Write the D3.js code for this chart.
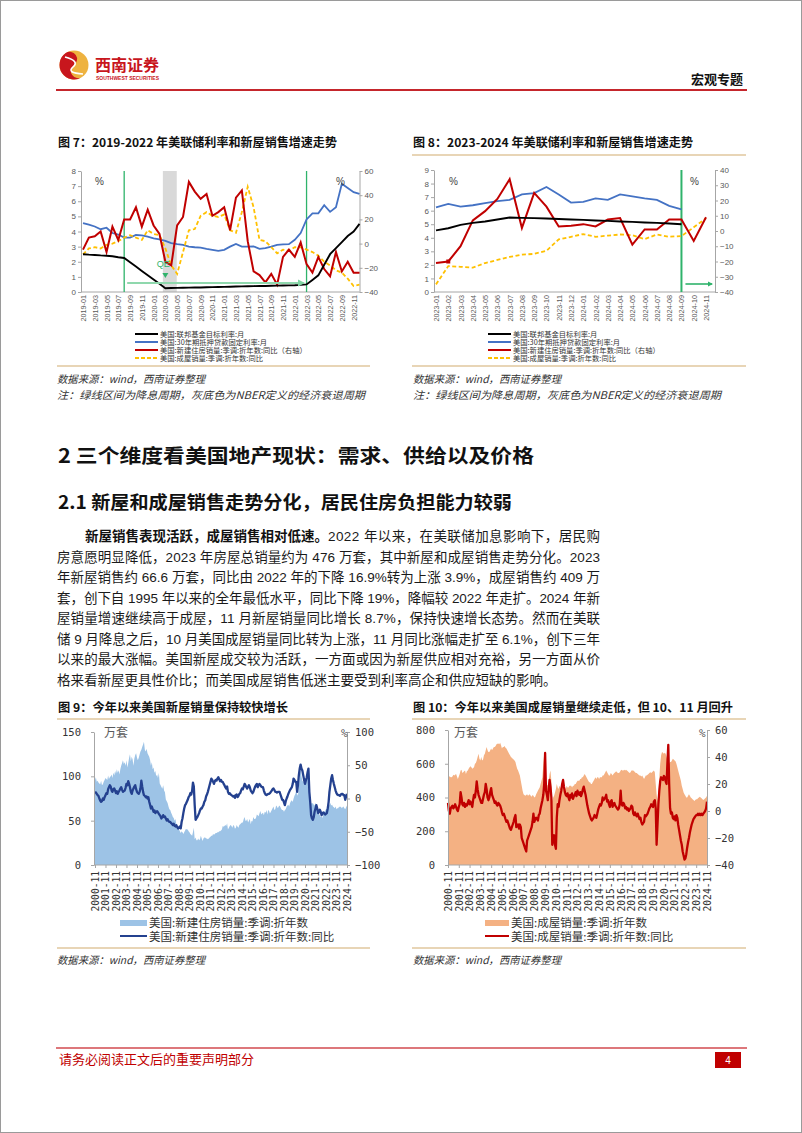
<!DOCTYPE html>
<html><head><meta charset="utf-8">
<script src="https://cdn.jsdelivr.net/npm/d3@7"></script>
<style>body{margin:0;background:#fff}svg{display:block}</style>
</head><body>
<svg id="page" width="802" height="1133"></svg>
<script>
// ---------------- DATA ----------------
// Figure 7: 2019-01 .. 2022-12 (monthly)
const fed7 = [2.5,2.47,2.45,2.42,2.4,2.36,2.3,2.25,1.96,1.68,1.39,1.11,0.82,0.54,0.25,0.26,0.27,0.28,0.29,0.3,0.3,0.31,0.32,0.33,0.34,0.35,0.36,0.37,0.38,0.39,0.4,0.4,0.41,0.42,0.43,0.44,0.45,0.47,0.5,0.8,1.1,1.8,2.5,2.9,3.3,3.7,4.0,4.5];
const mort7 = [4.55,4.45,4.33,4.15,4.25,3.9,3.8,3.6,3.6,3.77,3.75,3.66,3.55,3.48,3.38,3.23,3.16,3.12,3.0,2.96,2.94,2.85,2.79,2.72,2.79,3.0,3.18,3.0,3.0,3.02,2.85,2.9,3.0,3.12,3.15,3.16,3.45,3.9,4.8,5.2,5.2,5.74,5.3,5.6,7.15,6.87,6.6,6.49];
const newYoy7 = [-5,5,6,10,-7,14,3,20,20,30,14,28,15,8,-15,-18,15,22,51,43,37,41,23,26,30,11,38,44,2,-23,-26,-32,-25,-34,-11,-5,-11,1,-17,-24,-11,-21,-27,-7,-23,-15,-24,-24];
const exYoy7 = [-9,-4,-3,-4,-1,0,2,5,7,5,3,11,8,7,-4,-18,-25,-7,11,12,23,26,23,22,24,11,9,26,47,30,3,2,-3,-8,-5,-6,-3,-3,-5,-7,-10,-15,-18,-22,-24,-29,-35,-34];
// Figure 8: 2023-01 .. 2024-11 (monthly)
const fed8 = [4.55,4.7,4.95,5.1,5.2,5.35,5.5,5.47,5.45,5.42,5.38,5.35,5.32,5.28,5.25,5.2,5.17,5.13,5.1,5.05,5.0];
const mort8 = [6.25,6.5,6.3,6.4,6.55,6.7,6.8,7.2,7.3,7.75,7.2,6.6,6.65,6.9,6.8,7.2,7.05,6.9,6.8,6.35,6.1];
const newYoy8 = [-21,-20,-10,7,13,21,34,2,25,16,3,3.5,4.5,3,7.5,8.5,-9,1,1,7.5,7.5,-6.5,9];
const exYoy8 = [-35,-23,-23.5,-24,-21,-19,-17,-15.5,-15,-13,-5.5,-3.8,-2,-3.8,-3,-2.3,-2.7,-5.3,-2.3,-3.8,-3.3,2.4,8.3];
const legend78 = ["美国:联邦基金目标利率:月","美国:30年期抵押贷款固定利率:月","美国:新建住房销量:季调:折年数:同比（右轴）","美国:成屋销量:季调:折年数:同比"];

// Figure 9 / 10: 2000-11 .. 2024-11 (monthly)
const yearTicks = ["2000-11","2001-11","2002-11","2003-11","2004-11","2005-11","2006-11","2007-11","2008-11","2009-11","2010-11","2011-11","2012-11","2013-11","2014-11","2015-11","2016-11","2017-11","2018-11","2019-11","2020-11","2021-11","2022-11","2023-11","2024-11"];
const newSales = [
 96,99,
 94,95,93,92,91,95,90,91,94,96,98,97,
 96,101,97,99,100,102,98,104,101,106,103,108,
 104,107,102,108,112,115,118,114,116,112,118,110,
 115,121,125,117,122,119,112,120,124,126,121,118,
 121,125,128,130,133,136,139,130,128,131,126,124,
 122,118,112,116,108,110,104,106,100,102,98,104,
 92,90,88,86,90,84,82,74,72,70,66,63,
 62,59,57,54,53,50,52,46,44,42,40,38,
 36,38,37,35,37,39,41,40,40,38,37,35,
 34,33,37,42,29,31,28,28,30,28,29,33,
 30,27,30,31,31,30,30,29,30,31,32,33,
 33,35,34,35,36,36,37,37,38,38,39,40,
 44,43,44,45,44,47,40,42,44,45,44,42,
 45,44,41,42,45,43,42,45,46,47,48,48,
 52,54,50,50,52,48,50,52,46,50,49,54,
 52,52,53,57,56,55,58,61,57,58,59,56,
 60,59,62,57,62,61,58,60,62,64,66,62,
 63,67,66,64,66,67,65,63,62,62,60,62,
 63,66,67,68,66,70,72,73,71,75,78,80,
 84,80,78,88,98,109,100,95,94,94,96,98,
 99,101,95,78,72,70,69,70,68,67,70,68,
 66,62,58,56,54,55,53,58,60,61,63,64,
 64,66,68,70,67,68,66,65,64,66,63,64,
 64,66,65,66,64,65,66,64,63,65,67];
const newSalesYoy = [
 10,9,
 7,5,4,0,-3,-5,-4,0,-2,2,5,8,
 7,14,17,20,18,12,10,14,15,12,8,11,
 7,10,12,15,17,13,10,11,12,16,22,20,
 26,22,17,10,7,12,15,18,20,14,10,8,
 7,10,15,27,18,10,5,4,2,3,0,2,
 -5,-10,-15,-12,-16,-20,-18,-22,-20,-19,-21,-23,
 -25,-27,-30,-28,-25,-28,-27,-30,-33,-31,-34,-35,
 -35,-37,-38,-40,-38,-41,-42,-40,-43,-45,-44,-42,
 -45,-35,-30,-22,-15,-10,-8,-5,-2,2,4,8,
 6,12,24,18,-10,-32,-30,-28,-25,-22,-18,-15,
 -15,-12,-10,-5,-3,3,6,10,15,20,25,30,
 28,25,22,26,28,27,30,32,29,26,28,25,
 25,22,20,17,15,18,10,7,8,6,5,4,
 3,4,1,5,6,2,4,7,8,12,15,14,
 18,22,20,17,15,18,20,17,12,10,8,10,
 14,18,20,22,17,20,22,20,18,17,17,12,
 8,6,5,6,7,7,8,10,12,14,15,13,
 10,10,9,10,10,10,6,2,-2,-2,-6,-10,
 -4,0,3,7,10,13,15,17,22,30,28,25,
 25,10,20,35,45,51,45,42,35,28,22,27,
 32,40,45,10,-5,-25,-30,-32,-28,-20,-15,-10,
 -15,-22,-20,-17,-20,-25,-23,-21,-22,-24,-23,-22,
 -15,-5,10,20,30,35,28,22,17,12,8,6,
 5,5,4,6,7,7,5,5,-2,3,7];
const exSales = [
 515,525,
 525,520,520,525,535,530,535,540,525,510,525,540,
 560,565,545,550,555,560,540,555,560,570,580,585,
 580,570,575,580,600,605,620,640,660,630,620,640,
 620,625,650,660,680,700,680,670,670,680,690,680,
 690,700,700,705,715,718,720,715,725,710,690,700,
 700,705,695,690,680,670,660,650,640,635,630,625,
 620,610,590,570,560,545,530,500,470,440,420,415,
 410,415,420,410,415,420,410,405,415,410,400,405,
 420,430,440,450,460,480,500,520,600,660,560,500,
 480,470,500,540,560,500,380,400,410,430,450,480,
 460,450,470,460,450,460,470,460,460,450,470,460,
 460,470,470,470,460,470,470,480,480,490,500,500,
 500,510,510,520,520,530,540,530,520,510,500,490,
 490,480,480,490,500,510,520,510,520,520,510,520,
 520,520,530,530,540,550,560,550,540,530,530,545,
 540,530,540,545,550,555,550,545,545,550,560,565,
 560,560,565,560,565,560,555,550,545,550,560,560,
 560,555,550,545,545,540,535,530,530,525,530,520,
 510,520,530,530,535,540,545,550,545,550,555,560,
 550,480,420,380,420,520,600,650,670,665,660,665,
 660,640,620,600,600,610,610,620,630,625,620,615,
 600,580,560,540,520,500,470,450,430,420,410,400,
 400,410,420,410,400,395,390,385,380,385,390,390,
 395,400,405,400,395,390,385,390,395,400,410];
const exSalesYoy = [
 6,0,
 -2,2,3,4,2,3,5,3,1,0,3,5,
 14,10,5,4,6,3,5,4,6,8,5,7,
 5,3,8,12,10,15,22,16,12,10,8,6,
 6,9,12,14,20,16,10,8,10,14,17,12,
 10,8,6,7,5,4,6,5,4,2,-1,-3,
 -2,-4,-6,-8,-7,-9,-11,-13,-14,-12,-10,-8,
 -5,-3,-12,-11,-10,-13,-10,-12,-20,-22,-24,-26,
 -28,-30,-22,-20,-18,-16,-14,-12,-8,-2,-8,-6,
 -5,-6,-7,-3,-2,2,5,8,12,20,43,15,
 12,8,16,23,18,10,-25,-20,-18,-25,-28,-5,
 5,3,8,12,15,20,23,18,14,12,11,13,
 10,8,12,10,13,9,11,12,14,11,15,13,
 12,14,11,13,16,18,15,12,8,4,1,-2,
 -4,-6,-7,-6,-5,-3,-4,-5,-2,1,3,5,
 4,6,10,8,9,10,12,7,8,5,3,7,
 8,3,5,6,4,3,2,1,2,5,15,5,
 4,6,5,2,3,1,2,0,1,2,4,3,
 -2,-3,-1,-3,-4,-2,-4,-6,-5,-8,-10,-9,
 -8,-3,-4,-3,-2,0,2,3,5,4,3,7,
 8,2,-25,-10,5,15,22,25,24,23,26,25,
 22,20,35,49,20,2,-2,-1,-5,-6,-4,-7,
 -3,-5,-10,-14,-18,-22,-25,-30,-33,-36,-35,-32,
 -27,-23,-20,-16,-13,-10,-8,-6,-5,-4,-3,-3,
 -2,-3,-2,-3,-2,-3,-2,-1,0,2,7];

const paraBold = "新屋销售表现活跃，成屋销售相对低速。";
const paraLines = [
 "2022 年以来，在美联储加息影响下，居民购",
 "房意愿明显降低，2023 年房屋总销量约为 476 万套，其中新屋和成屋销售走势分化。2023",
 "年新屋销售约 66.6 万套，同比由 2022 年的下降 16.9%转为上涨 3.9%，成屋销售约 409 万",
 "套，创下自 1995 年以来的全年最低水平，同比下降 19%，降幅较 2022 年走扩。2024 年新",
 "屋销量增速继续高于成屋，11 月新屋销量同比增长 8.7%，保持快速增长态势。然而在美联",
 "储 9 月降息之后，10 月美国成屋销量同比转为上涨，11 月同比涨幅走扩至 6.1%，创下三年",
 "以来的最大涨幅。美国新屋成交较为活跃，一方面或因为新屋供应相对充裕，另一方面从价",
 "格来看新屋更具性价比；而美国成屋销售低迷主要受到利率高企和供应短缺的影响。"];

// ---------------- DRAW ----------------
const CJK = "'Noto Sans CJK SC',sans-serif";
const SANS = "'Liberation Sans',Arial,'Noto Sans CJK SC',sans-serif";
const MONO = "'DejaVu Sans Mono',monospace";
const svg = d3.select('#page');
svg.append('rect').attr('width',802).attr('height',1133).attr('fill','#fff');
svg.append('rect').attr('x',0.5).attr('y',0.5).attr('width',801).attr('height',1132).attr('fill','none').attr('stroke','#9a9a9a');

const defs = svg.append('defs');
defs.append('marker').attr('id','arrG').attr('viewBox','0 0 10 10').attr('refX',8).attr('refY',5)
  .attr('markerWidth',4).attr('markerHeight',4).attr('orient','auto')
  .append('path').attr('d','M0,0L10,5L0,10z').attr('fill','#7fd3a2');
defs.append('marker').attr('id','arrG2').attr('viewBox','0 0 10 10').attr('refX',8).attr('refY',5)
  .attr('markerWidth',3.5).attr('markerHeight',3.5).attr('orient','auto')
  .append('path').attr('d','M0,0L10,5L0,10z').attr('fill','#2fb36b');

function txt(x,y,s,o={}){
  const t = svg.append('text').attr('x',x).attr('y',y).text(s)
    .attr('font-family',o.ff||CJK).attr('font-size',o.fs||12).attr('fill',o.fill||'#222');
  if(o.fw) t.attr('font-weight',o.fw);
  if(o.anchor) t.attr('text-anchor',o.anchor);
  if(o.len) t.attr('textLength',o.len).attr('lengthAdjust','spacingAndGlyphs');
  if(o.italic) t.attr('font-style','italic');
  return t;
}

// Header
(function(){
  const cx=74, cy=65, r=14.5;
  svg.append('circle').attr('cx',cx).attr('cy',cy).attr('r',r).attr('fill','#eeb23f');
  svg.append('path').attr('d',`M${cx},${cy-r} A${r},${r} 0 0,0 ${cx},${cy+r} A${r/2},${r/2} 0 0,1 ${cx},${cy} A${r/2},${r/2} 0 0,0 ${cx},${cy-r}Z`)
    .attr('fill','#c8161d').attr('transform',`rotate(-35 ${cx} ${cy})`);
  svg.append('path').attr('d',`M${cx-9},${cy-8} Q${cx+6},${cy-4} ${cx-1},${cy+2} Q${cx-8},${cy+8} ${cx+9},${cy+9}`)
    .attr('fill','none').attr('stroke','#fff').attr('stroke-width',1.6);
  txt(95,71,'西南证券',{fs:15.5,fw:'bold',fill:'#c8161d',len:64});
  txt(96,80,'SOUTHWEST SECURITIES',{ff:SANS,fs:4.6,fw:'bold',fill:'#c8161d',len:63});
  txt(743,84,'宏观专题',{fs:13,fw:'bold',fill:'#111',anchor:'end'});
  svg.append('line').attr('x1',56).attr('x2',747).attr('y1',90).attr('y2',90).attr('stroke','#c5262c').attr('stroke-width',2);
})();

// Footer
svg.append('line').attr('x1',56).attr('x2',747).attr('y1',1048).attr('y2',1048).attr('stroke','#d24a4f').attr('stroke-width',1.5);
txt(59,1064,'请务必阅读正文后的重要声明部分',{fs:13,fill:'#c00000'});
svg.append('rect').attr('x',715).attr('y',1052).attr('width',26).attr('height',16).attr('fill','#c00000');
txt(728,1064,'4',{ff:SANS,fs:10,fill:'#fff',anchor:'middle'});

const TAN = '#d2ab6e';
function hline(x1,x2,y,c){ svg.append('line').attr('x1',x1).attr('x2',x2).attr('y1',y).attr('y2',y).attr('stroke',c||TAN).attr('stroke-width',1.2); }

function styleAxis(ax, fs, ff, col){
  ax.select('.domain').attr('stroke','#a6a6a6');
  ax.selectAll('.tick line').attr('stroke','#a6a6a6');
  ax.selectAll('text').attr('font-family',ff).attr('font-size',fs).attr('fill',col);
}

// ---- Figures 7 & 8 ----
function rateChart(o){
  const g = svg.append('g');
  const x = d3.scalePoint().domain(o.months).range([o.xa,o.xb]);
  const yL = d3.scaleLinear().domain(o.lDom).range([o.yB,o.yT]);
  const yR = d3.scaleLinear().domain(o.rDom).range([o.yB,o.yT]);
  if(o.band){
    g.append('rect').attr('x',x(o.months[o.band[0]])-2.5).attr('width',x(o.months[o.band[1]])-x(o.months[o.band[0]])+8)
      .attr('y',o.yT).attr('height',o.yB-o.yT).attr('fill','#d9d9d9');
  }
  const aL = g.append('g').attr('transform',`translate(${o.axL},0)`).call(d3.axisLeft(yL).tickValues(o.lTicks).tickSize(3).tickSizeOuter(0).tickPadding(2));
  const aR = g.append('g').attr('transform',`translate(${o.axR},0)`).call(d3.axisRight(yR).tickValues(o.rTicks).tickSize(3).tickSizeOuter(0).tickPadding(2));
  styleAxis(aL,8,SANS,'#595959'); styleAxis(aR,8,SANS,'#595959');
  g.append('line').attr('x1',o.axL).attr('x2',o.axR).attr('y1',o.yB).attr('y2',o.yB).attr('stroke','#a6a6a6');
  const fmt = d3.timeFormat('%Y-%m');
  const aB = g.append('g').attr('transform',`translate(0,${o.yB})`).call(d3.axisBottom(x).tickValues(o.tickMonths).tickFormat(fmt).tickSize(0));
  aB.select('.domain').remove();
  aB.selectAll('text').attr('transform','rotate(-90)').attr('x',-3).attr('y',0).attr('dy','0.35em')
    .style('text-anchor','end').attr('font-family',SANS).attr('font-size',7.2).attr('fill','#595959');
  o.greens.forEach(i=>{
    g.append('line').attr('x1',x(o.months[i])).attr('x2',x(o.months[i])).attr('y1',o.yT).attr('y2',o.yB)
      .attr('stroke','#2fb36b').attr('stroke-width',o.gw||1.3);
  });
  const lineL = d3.line().x((d,i)=>x(o.months[i])).y(d=>yL(d));
  const lineR = d3.line().x((d,i)=>x(o.months[i])).y(d=>yR(d));
  g.append('path').datum(o.mort).attr('d',lineL).attr('fill','none').attr('stroke','#4472c4').attr('stroke-width',1.8);
  g.append('path').datum(o.exYoy).attr('d',lineR).attr('fill','none').attr('stroke','#ffc000').attr('stroke-width',1.8).attr('stroke-dasharray','4,2.5');
  g.append('path').datum(o.newYoy).attr('d',lineR).attr('fill','none').attr('stroke','#c00000').attr('stroke-width',2);
  g.append('path').datum(o.fed).attr('d',lineL).attr('fill','none').attr('stroke','#000').attr('stroke-width',1.9);
  txt(o.pctL,185,'%',{ff:SANS,fs:10,fill:'#404040'});
  txt(o.pctR,185,'%',{ff:SANS,fs:10,fill:'#404040'});
  const cols = ['#000','#4472c4','#c00000','#ffc000'];
  legend78.forEach((s,i)=>{
    const yy = 334+i*8;
    g.append('line').attr('x1',o.legX).attr('x2',o.legX+23).attr('y1',yy).attr('y2',yy).attr('stroke',cols[i]).attr('stroke-width',2)
      .attr('stroke-dasharray', i===3?'4,2':null);
    txt(o.legX+25,yy+2.7,s,{fs:7.3,fill:'#333'});
  });
  return {x,yL,yR,g};
}

const months7 = d3.timeMonth.range(new Date(2019,0,1), new Date(2023,0,1));
const c7 = rateChart({months:months7, xa:83, xb:359.5, yT:171, yB:292, lDom:[0,8], rDom:[-40,60],
  lTicks:d3.range(0,9), rTicks:[-40,-20,0,20,40,60], axL:81, axR:359.5,
  tickMonths:months7.filter((d,i)=>i%2===0), band:[14,15], greens:[7,38],
  fed:fed7, mort:mort7, newYoy:newYoy7, exYoy:exYoy7, pctL:95, pctR:336, legX:135});
(function(){
  const g = c7.g, x=c7.x;
  g.append('line').attr('x1',x(months7[7])+3).attr('x2',x(months7[38])-3).attr('y1',283).attr('y2',283)
    .attr('stroke','#8fd8ad').attr('stroke-width',1.8).attr('marker-end','url(#arrG)');
  txt(x(months7[14])-2,267,'QE',{ff:SANS,fs:9,fill:'#2fb36b',anchor:'middle'});
  g.append('path').attr('d',`M${x(months7[14])-3},273 L${x(months7[14])+3},273 L${x(months7[14])},278Z`).attr('fill','#2fb36b');
})();

const months8 = d3.timeMonth.range(new Date(2023,0,1), new Date(2024,11,1));
const c8 = rateChart({months:months8, xa:436, xb:706, yT:170, yB:292, lDom:[0,9], rDom:[-40,40],
  lTicks:d3.range(0,10), rTicks:d3.range(-40,41,10), axL:434, axR:715,
  tickMonths:months8, greens:[20], gw:2,
  fed:fed8, mort:mort8, newYoy:newYoy8, exYoy:exYoy8, pctL:449, pctR:690, legX:488});
(function(){
  const g=c8.g, x=c8.x;
  g.append('rect').attr('x',x(months8[1])-2).attr('y',c8.yR(newYoy8[1])-2).attr('width',4).attr('height',4).attr('fill','#c00000');
  g.append('line').attr('x1',x(months8[20])+4).attr('x2',x(months8[22])+6).attr('y1',284).attr('y2',284)
    .attr('stroke','#2fb36b').attr('stroke-width',1.6).attr('marker-end','url(#arrG2)');
})();

txt(58,147,'图 7：2019-2022 年美联储利率和新屋销售增速走势',{fs:12,fw:'bold',fill:'#111',len:279});
txt(413,147,'图 8：2023-2024 年美联储利率和新屋销售增速走势',{fs:12,fw:'bold',fill:'#111',len:280});
hline(412,746,155);
hline(57,370,366); hline(412,746,366);
[57,413].forEach(x0=>{
  txt(x0,383,'数据来源：wind，西南证券整理',{fs:10.5,italic:true,fill:'#333',len:148});
  txt(x0,399,'注：绿线区间为降息周期，灰底色为NBER定义的经济衰退周期',{fs:10.5,italic:true,fill:'#333',len:308});
});

// ---- Section text ----
txt(58,463,'2 三个维度看美国地产现状：需求、供给以及价格',{fs:19.5,fw:'bold',fill:'#111',len:476});
txt(58,509,'2.1 新屋和成屋销售走势分化，居民住房负担能力较弱',{fs:18,fw:'bold',fill:'#111',len:454});
(function(){
  const R = 600, L = 57, y0 = 541, dy = 20.5;
  const fam = "'Liberation Sans',Arial,'Noto Sans CJK SC',sans-serif";
  const b = svg.append('text').attr('x',85).attr('y',y0).attr('font-family',fam).attr('font-size',13.5).attr('font-weight','bold').attr('fill','#111').text(paraBold);
  const w = b.node().getComputedTextLength();
  paraLines.forEach((s,i)=>{
    const y = y0 + i*dy;
    const x = i===0 ? 85+w : L;
    const t = svg.append('text').attr('x',x).attr('y',y).attr('font-family',fam).attr('font-size',13.5).attr('fill','#1a1a1a').text(s);
    if(i < paraLines.length-1) t.attr('textLength',R-x).attr('lengthAdjust','spacing');
  });
})();

// ---- Figures 9 & 10 ----
const dates = d3.timeMonth.range(new Date(2000,10,1), new Date(2024,11,1));
function salesChart(o){
  const g = svg.append('g');
  const x = d3.scaleTime().domain([dates[0],dates[dates.length-1]]).range([o.xa,o.xb]);
  const yL = d3.scaleLinear().domain(o.lDom).range([o.yB,o.yT]);
  const yR = d3.scaleLinear().domain(o.rDom).range([o.yB,o.yT]);
  g.append('path').datum(o.vals).attr('d',d3.area().x((d,i)=>x(dates[i])).y0(yL(0)).y1(d=>yL(d))).attr('fill',o.areaC);
  g.append('path').datum(o.yoy).attr('d',d3.line().x((d,i)=>x(dates[i])).y(d=>yR(d)))
    .attr('fill','none').attr('stroke',o.lineC).attr('stroke-width',2.3).attr('stroke-linejoin','round');
  const aL = g.append('g').attr('transform',`translate(${o.axL},0)`).call(d3.axisLeft(yL).tickValues(o.lTicks).tickSize(3).tickSizeOuter(0).tickPadding(o.padL));
  const aR = g.append('g').attr('transform',`translate(${o.axR},0)`).call(d3.axisRight(yR).tickValues(o.rTicks).tickSize(3).tickSizeOuter(0).tickPadding(5));
  styleAxis(aL,10.5,MONO,'#333'); styleAxis(aR,10.5,MONO,'#333');
  const tickDates = dates.filter((d,i)=>i%12===0);
  const aB = g.append('g').attr('transform',`translate(0,${o.yB})`)
    .call(d3.axisBottom(x).tickValues(tickDates).tickFormat((d,i)=>yearTicks[i]).tickSize(3).tickSizeOuter(0));
  styleAxis(aB,9.6,MONO,'#333');
  aB.select('.domain').attr('d',`M${o.axL},0H${o.axR}`);
  aB.selectAll('text').attr('transform','rotate(-90)').attr('x',-6).attr('y',0).attr('dy','0.35em').style('text-anchor','end');
  txt(o.unitX,737,'万套',{fs:12,fill:'#595959'});
  txt(o.pctX,737,'%',{ff:MONO,fs:11,fill:'#595959'});
  g.append('rect').attr('x',o.legX).attr('y',920).attr('width',o.legW).attr('height',6).attr('fill',o.areaC);
  g.append('line').attr('x1',o.legX).attr('x2',o.legX+o.legW).attr('y1',936).attr('y2',936).attr('stroke',o.lineC).attr('stroke-width',2);
  txt(o.legX+o.legW+2,927,o.leg[0],{fs:11.5,fill:'#333'});
  txt(o.legX+o.legW+2,941,o.leg[1],{fs:11.5,fill:'#333'});
}
salesChart({xa:95, xb:347, yT:732, yB:865, lDom:[0,150], rDom:[-100,100], lTicks:[0,50,100,150], rTicks:[-100,-50,0,50,100],
  axL:94, axR:347, padL:10, vals:newSales, yoy:newSalesYoy, areaC:'#9dc3e6', lineC:'#24418f',
  unitX:104, pctX:341, legX:120, legW:27, leg:['美国:新建住房销量:季调:折年数','美国:新建住房销量:季调:折年数:同比']});
salesChart({xa:448, xb:707, yT:730, yB:865, lDom:[0,800], rDom:[-40,60], lTicks:[0,200,400,600,800], rTicks:[-40,-20,0,20,40,60],
  axL:448, axR:707, padL:10, vals:exSales, yoy:exSalesYoy, areaC:'#f4b183', lineC:'#c00000',
  unitX:454, pctX:699, legX:485, legW:24, leg:['美国:成屋销量:季调:折年数','美国:成屋销量:季调:折年数:同比']});

txt(58,712,'图 9：今年以来美国新屋销量保持较快增长',{fs:12,fw:'bold',fill:'#111',len:230});
txt(413,712,'图 10：今年以来美国成屋销量继续走低，但 10、11 月回升',{fs:12,fw:'bold',fill:'#111',len:320});
hline(57,370,719); hline(412,746,719);
hline(57,370,948); hline(412,746,948);
txt(57,964,'数据来源：wind，西南证券整理',{fs:10.5,italic:true,fill:'#333',len:148});
txt(413,964,'数据来源：wind，西南证券整理',{fs:10.5,italic:true,fill:'#333',len:148});
</script>
</body></html>
